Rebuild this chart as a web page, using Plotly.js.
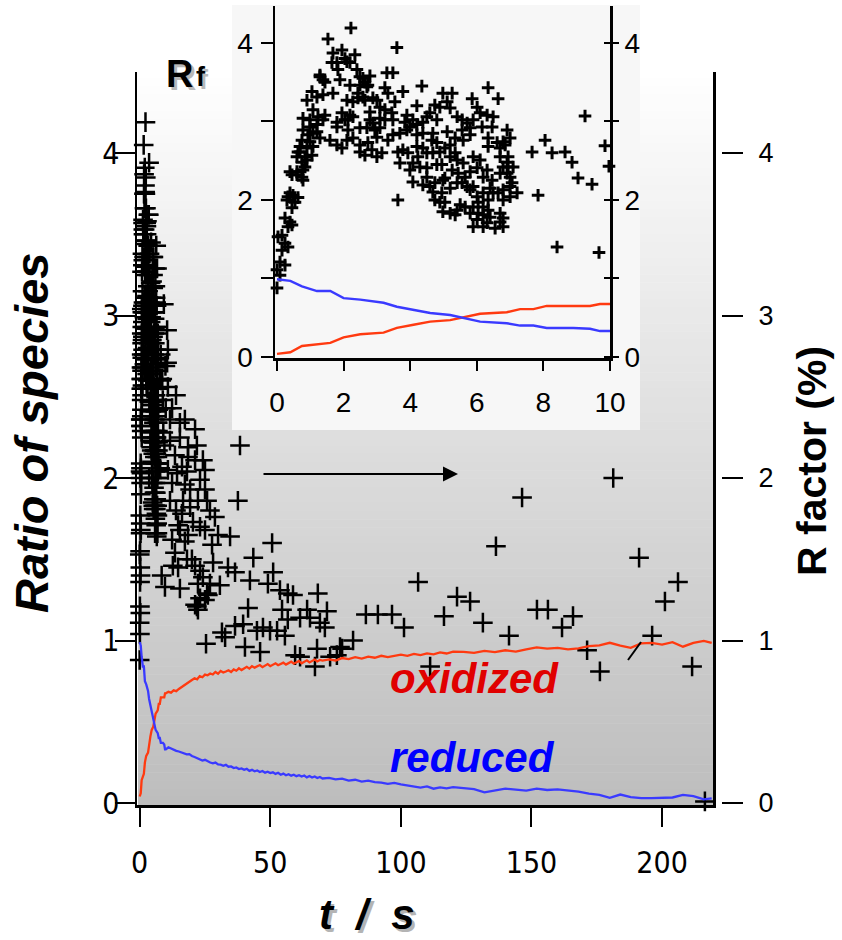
<!DOCTYPE html>
<html><head><meta charset="utf-8">
<script src="https://cdn.plot.ly/plotly-3.0.1.min.js"></script>
<style>html,body{margin:0;padding:0;background:#fff}</style>
</head><body><div id="chart" style="width:842px;height:940px"></div>
<script>
// R factor (%) scatter points: time (s) and value
const rfTime = [2.22,1.53,3.60,1.68,1.95,2.04,2.34,1.65,2.19,1.83,2.40,2.79,2.58,3.30,3.48,1.29,1.44,1.89,2.19,2.49,2.70,
4.35,3.78,3.24,3.33,3.54,1.05,1.20,0.90,1.38,1.68,2.10,2.43,2.64,2.88,2.28,
4.98,5.26,5.86,6.34,6.64,4.20,4.74,4.89,5.11,5.20,6.01,6.10,6.31,6.49,
1.08,1.23,0.99,0.78,1.44,1.95,2.13,2.28,2.79,3.09,2.88,2.70,3.09,3.24,3.48,3.90,4.08,3.84,3.99,4.20,4.38,4.50,4.59,4.80,5.41,5.56,5.71,5.56,5.80,5.89,6.16,6.46,6.91,
1.80,2.13,2.49,0.78,0.99,1.20,0.93,1.59,1.80,1.95,2.10,2.28,2.49,2.73,3.00,3.33,3.48,3.69,3.90,4.20,4.38,4.68,5.11,5.35,4.65,4.80,5.20,5.59,5.80,6.34,6.61,6.79,7.00,
0.90,0.69,1.08,1.05,0.84,0.60,0.75,0.84,2.49,2.64,2.85,3.00,3.15,3.63,3.78,3.93,3.69,4.20,4.38,4.23,4.08,4.29,4.50,4.80,4.95,5.20,5.35,5.89,6.10,6.34,6.70,6.85,6.70,6.94,6.91,5.80,6.01,6.31,6.70,6.91,
4.08,4.38,4.59,4.74,5.04,5.41,5.56,5.71,5.89,5.20,4.68,4.95,4.74,4.89,5.04,5.80,6.01,6.19,6.40,6.49,6.64,6.79,7.00,7.21,
3.63,5.50,5.65,6.04,6.19,6.34,4.98,5.20,5.35,5.80,6.04,6.19,6.70,6.79,6.70,5.89,6.19,6.55,
0.45,0.60,0.75,0.78,0.33,0.48,0.63,0.54,0.45,0.24,0.39,0.45,0.33,0.15,0.03,0.24,0.33,0.15,0.09,0.24,0.00,0.09,0.00,
9.25,8.05,7.66,8.26,8.65,8.86,9.85,9.97,7.84,9.04,9.46,8.41,9.67,7.06,6.94,
1.29,1.38,1.80,2.10,2.49,2.64,2.73,2.43,2.58,3.00,3.09,3.24,3.45,2.79,2.94,2.19,2.04,1.80,1.38,1.20,1.08,1.29,0.99,0.75,0.69,0.63,0.90,0.78,0.60,0.39,0.30,0.39,
4.68,4.89,5.04,4.50,5.41,5.59,5.26,5.44,5.65,6.19,6.46,7.00,7.09,6.79,4.98,4.50,3.99,6.34,6.79,7.00,5.89,5.41,6.40,6.01,6.31,6.79,
10.5,10.8,12.4,15.4,17.3,15.4,18.5,21.9,24.2,21.2,18.5,16.2,14.3,18.1,23.1,25.0,17.3,12.4,22.3,25.8,28.8,19.3,16.2,20.4,23.1,25.0,30.0,34.6,15.4,17.3,38.4,37.6,50.7,
13.5,18.1,21.2,23.1,24.2,22.3,23.1,21.2,22.3,25.0,26.1,26.9,43.5,51.1,33.8,36.5,28.1,15.4,14.7,12.7,20.0,21.9,25.8,30.7,42.2,49.1,53.7,56.7,58.7,68.2,41.5,54.5,56.7,61.4,64.1,65.2,69.0,71.7,70.9,36.5,39.6,31.5,32.7,44.9,47.2,49.9,52.6,55.6,25.4,40.3,46.1,59.5,61.4,67.9,67.1,72.9,75.5,77.5,
181.3,146.4,136.4,191.2,206.1,201.1,106.6,121.5,126.5,86.6,91.2,96.6,101.2,116.5,131.4,152.1,156.3,161.7,165.9,141.4,196.2,81.7,76.7,111.2,171.3,176.2,211.5,216.4,
11.6,13.5,10.8,11.6,13.9,12.4,14.7,19.3,16.6,13.9,11.6,21.2,25.0,26.9,18.5,27.7,10.8,10.5];
const rfValue = [4.19,4.05,3.94,3.87,3.91,3.80,3.85,3.75,3.75,3.66,3.66,3.58,3.55,3.62,3.62,3.57,3.50,3.53,3.46,3.46,3.44,
3.45,3.38,3.43,3.36,3.25,3.38,3.31,3.27,3.34,3.36,3.27,3.36,3.27,3.30,3.25,
3.36,3.36,3.29,3.43,3.29,3.20,3.21,3.18,3.25,3.17,3.18,3.11,3.08,3.06,
3.15,3.06,3.02,3.04,3.08,3.11,3.02,3.06,3.12,3.04,2.98,2.92,2.92,3.02,3.02,3.08,3.02,2.99,2.93,2.96,2.99,3.06,3.11,3.02,3.06,3.02,2.98,2.89,2.92,3.02,2.93,2.93,2.89,
2.93,2.89,2.92,2.89,2.93,2.87,2.83,2.76,2.70,2.66,2.76,2.79,2.70,2.73,2.80,2.76,2.83,2.85,2.89,2.83,2.85,2.85,2.87,2.79,2.76,2.73,2.70,2.76,2.83,2.79,2.73,2.74,2.79,
2.66,2.61,2.68,2.57,2.55,2.55,2.48,2.42,2.61,2.57,2.64,2.55,2.60,2.61,2.64,2.60,2.47,2.68,2.66,2.55,2.47,2.42,2.41,2.45,2.45,2.55,2.60,2.55,2.51,2.68,2.66,2.70,2.55,2.55,2.48,2.36,2.41,2.38,2.34,2.34,
2.23,2.19,2.17,2.22,2.28,2.22,2.22,2.17,2.17,2.15,2.10,2.09,2.00,1.97,1.97,2.13,2.04,2.09,2.15,2.09,2.09,2.13,2.17,2.09,
2.00,1.94,1.91,1.97,1.91,1.87,1.85,1.83,1.81,1.83,1.83,1.81,1.83,1.77,1.72,1.66,1.66,1.64,
2.32,2.32,2.29,2.25,2.04,2.06,2.03,1.97,1.90,1.77,1.72,1.68,1.66,1.55,1.53,1.45,1.40,1.36,1.21,1.17,1.11,1.04,0.88,
3.07,2.76,2.61,2.60,2.61,2.48,2.69,2.43,2.06,2.28,2.20,1.40,1.33,2.22,2.42,
3.59,3.53,3.75,3.76,3.57,3.50,3.46,3.30,3.31,3.27,3.18,3.15,3.11,3.02,2.89,3.08,3.02,2.99,3.02,2.96,2.85,2.79,2.74,2.76,2.68,2.61,2.51,2.38,2.36,2.36,2.00,2.09,
2.60,2.61,2.66,2.60,2.51,2.47,2.38,2.34,2.29,2.29,2.25,2.29,2.42,2.42,2.25,2.29,2.38,2.00,2.00,2.04,1.91,1.87,1.78,1.75,1.71,1.66,
2.71,2.56,2.43,2.34,2.36,2.25,2.19,2.20,2.11,2.11,2.13,2.07,2.03,2.04,1.99,2.05,1.96,1.97,1.86,1.86,1.76,1.82,1.78,1.73,1.70,1.68,1.65,1.64,1.68,1.61,2.20,1.86,1.60,
1.54,1.50,1.46,1.43,1.39,1.35,1.26,1.22,1.19,1.25,1.28,1.35,1.51,1.42,1.45,1.42,1.48,1.32,1.45,1.46,1.50,1.21,1.29,1.34,1.37,1.35,1.31,1.29,1.28,1.29,1.20,1.19,1.13,1.14,1.19,1.14,1.11,1.18,1.08,1.09,1.10,1.05,1.02,1.06,1.08,1.06,1.06,1.03,0.98,0.96,0.93,0.91,0.90,0.95,0.84,0.90,0.91,0.95,
2.00,1.88,1.58,1.51,1.36,1.24,1.36,1.27,1.24,1.16,1.16,1.16,1.08,1.15,1.11,1.19,1.19,1.08,1.15,1.03,1.03,1.00,0.96,0.84,0.94,0.81,0.84,0.01,
2.23,2.14,2.05,1.86,1.80,1.62,1.71,1.93,1.86,2.51,2.36,2.30,1.93,1.80,1.65,1.59,2.79,2.91];

// ratio of species lines
const lineTime = [0,0.4,0.75,1.2,1.6,2.0,2.5,3.2,3.6,4.1,4.6,5.2,6.1,6.9,7.3,7.7,8.1,8.9,9.4,9.7,10.0,
11,12,13,14,15,16,17,18,19,20,21,22,23,24,25,26,27,28,29,30,31,32,33,34,35,36,37,38,39,40,
41,42,43,44,45,46,47,48,49,50,51,52,53,54,55,56,57,58,59,60,61,62,63,64,65,66,67,68,69,70,
72.5,75,77.5,80,82.5,85,87.5,90,92.5,95,97.5,100,102.5,105,107.5,110,112.5,115,117.5,120,
124,128,132,136,140,144,148,152,156,160,164,168,172,176,180,184,188,192,196,200,204,208,212,216,219];
const oxidized = [0.04,0.06,0.14,0.16,0.18,0.25,0.29,0.31,0.37,0.41,0.45,0.47,0.55,0.57,0.61,0.61,0.65,0.65,0.65,0.675,0.675,
0.684,0.679,0.693,0.688,0.702,0.714,0.722,0.738,0.745,0.757,
0.768,0.761,0.781,0.774,0.790,0.786,0.797,0.791,0.806,0.795,
0.812,0.803,0.809,0.817,0.806,0.822,0.814,0.829,0.818,0.826,
0.838,0.827,0.842,0.833,0.839,0.849,0.836,0.845,0.855,0.842,
0.851,0.860,0.848,0.856,0.864,0.852,0.861,0.870,0.857,0.866,
0.874,0.860,0.869,0.878,0.865,0.873,0.883,0.871,0.880,0.876,
0.884,0.877,0.892,0.885,0.897,0.889,0.901,0.894,0.906,0.898,0.904,0.913,0.906,0.918,0.910,0.921,0.915,0.927,0.920,0.931,
0.930,0.924,0.936,0.929,0.940,0.932,0.945,0.958,0.950,0.955,0.946,0.951,0.966,0.970,0.986,0.968,0.955,0.982,0.985,0.975,0.990,0.962,0.985,0.998,0.985];
const reduced = [0.99,0.97,0.90,0.84,0.84,0.75,0.73,0.69,0.64,0.60,0.56,0.535,0.45,0.43,0.40,0.40,0.37,0.37,0.36,0.33,0.33,
0.343,0.334,0.329,0.321,0.317,0.311,0.304,0.299,0.301,0.289,
0.283,0.276,0.271,0.261,0.266,0.255,0.249,0.244,0.249,0.237,
0.236,0.229,0.235,0.223,0.225,0.215,0.219,0.209,0.213,0.204,
0.210,0.198,0.204,0.195,0.200,0.191,0.197,0.187,0.193,0.184,
0.189,0.179,0.186,0.174,0.181,0.171,0.177,0.168,0.174,0.165,
0.171,0.163,0.169,0.158,0.166,0.157,0.163,0.154,0.160,0.151,
0.155,0.145,0.150,0.138,0.143,0.132,0.138,0.128,0.126,0.118,0.124,0.115,0.108,0.102,0.095,0.102,0.088,0.096,0.090,0.098,
0.090,0.085,0.065,0.078,0.088,0.082,0.076,0.088,0.080,0.084,0.078,0.070,0.058,0.050,0.032,0.052,0.036,0.030,0.030,0.030,0.034,0.050,0.042,0.022,0.028];

const mainTicksX = [0,50,100,150,200];
const mainTicksY = [0,1,2,3,4];
const insetTicksX = [0,2,4,6,8,10];
const insetTicksY = [0,1,2,3,4];
const insetTickText = ['0','','2','','4'];

const W = 842, H = 940;
const px = v => v / W, py = v => 1 - v / H;
const NARROW = "'Liberation Sans Narrow','Arial Narrow','DejaVu Sans Condensed',sans-serif";
const ARIAL = "'Liberation Sans',Arial,Helvetica,sans-serif";
const RED = '#ff3a10', BLUE = '#3a3aff';

const inT = [], inV = [];
rfTime.forEach((t, i) => { if (t <= 10.05) { inT.push(t); inV.push(rfValue[i]); } });
const inLT = [], inOx = [], inRe = [];
lineTime.forEach((t, i) => { if (t <= 10.0001) { inLT.push(t); inOx.push(oxidized[i]); inRe.push(reduced[i]); } });

const traces = [
  {x: rfTime, y: rfValue, xaxis: 'x', yaxis: 'y', mode: 'markers', cliponaxis: false,
   marker: {symbol: 'cross-thin', size: 14, color: '#000', line: {width: 2.5, color: '#000'}}, hoverinfo: 'skip'},
  {x: lineTime, y: oxidized, xaxis: 'x', yaxis: 'y', mode: 'lines', line: {color: RED, width: 2.3}, hoverinfo: 'skip'},
  {x: lineTime, y: reduced, xaxis: 'x', yaxis: 'y', mode: 'lines', line: {color: BLUE, width: 2.3}, hoverinfo: 'skip'},
  {x: inT, y: inV, xaxis: 'x2', yaxis: 'y2', mode: 'markers', cliponaxis: false,
   marker: {symbol: 'cross-thin', size: 9, color: '#000', line: {width: 3, color: '#000'}}, hoverinfo: 'skip'},
  {x: inLT, y: inOx, xaxis: 'x2', yaxis: 'y2', mode: 'lines', line: {color: RED, width: 2.4}, hoverinfo: 'skip'},
  {x: inLT, y: inRe, xaxis: 'x2', yaxis: 'y2', mode: 'lines', line: {color: BLUE, width: 2.4}, hoverinfo: 'skip'},
  {x: [null], y: [null], xaxis: 'x2', yaxis: 'y3', mode: 'markers', hoverinfo: 'skip'},
  {x: [null], y: [null], xaxis: 'x2', yaxis: 'y4', mode: 'markers', hoverinfo: 'skip'},
  {x: [null], y: [null], xaxis: 'x', yaxis: 'y5', mode: 'markers', hoverinfo: 'skip'}
];

// gradient background of main plot
const shapes = [];
const gTop = 70, gBot = 805, nStrip = 90;
for (let i = 0; i < nStrip; i++) {
  const y0 = gTop + (gBot - gTop) * i / nStrip, y1 = gTop + (gBot - gTop) * (i + 1) / nStrip;
  const f = (i + 0.5) / nStrip;
  const c = Math.round(255 - f * 66);
  shapes.push({type: 'rect', xref: 'paper', yref: 'paper', layer: 'below',
    x0: px(138), x1: px(713), y0: py(y1) - 0.0005, y1: py(y0),
    fillcolor: `rgb(${c},${c},${c})`, line: {width: 0}});
}
shapes.push({type: 'rect', xref: 'paper', yref: 'paper', layer: 'below',
  x0: px(232), x1: px(640), y0: py(430), y1: py(5), fillcolor: '#f7f7f7', line: {width: 0}});
shapes.push({type: 'line', xref: 'paper', yref: 'paper', x0: px(628), y0: py(660), x1: px(641), y1: py(642),
  line: {color: '#000', width: 2}});

const common = {showgrid: false, zeroline: false, linecolor: '#000', tickcolor: '#000', fixedrange: true};

function label(x, y, text, font, extra) {
  return Object.assign({xref: 'paper', yref: 'paper', x: px(x), y: py(y), text: text, showarrow: false,
    xanchor: 'center', yanchor: 'middle', font: font}, extra || {});
}

const layout = {
  width: W, height: H, margin: {l: 0, r: 0, t: 0, b: 0},
  paper_bgcolor: '#fff', plot_bgcolor: 'rgba(0,0,0,0)', showlegend: false,
  xaxis: Object.assign({}, common, {domain: [px(137), px(713)], range: [-1.03, 219.5], anchor: 'y',
    showline: true, linewidth: 2.5, ticks: 'outside', ticklen: 19, tickwidth: 2,
    tickvals: mainTicksX, ticktext: mainTicksX.map(String), ticklabelstandoff: 10,
    tickfont: {family: NARROW, size: 30, color: '#000'}}),
  yaxis: Object.assign({}, common, {domain: [py(805), py(72)], range: [-0.0123, 4.4985], anchor: 'x',
    showline: true, mirror: true, linewidth: 2.5, ticks: 'outside', ticklen: 20, tickwidth: 2,
    tickvals: mainTicksY, ticktext: mainTicksY.map(String), ticklabelstandoff: -11,
    tickfont: {family: NARROW, size: 30, color: '#000'}}),
  yaxis5: Object.assign({}, common, {overlaying: 'y', anchor: 'free', position: px(721), side: 'right',
    range: [-0.0123, 4.4985], showline: false, ticks: 'outside', ticklen: 21, tickwidth: 2,
    tickvals: mainTicksY, ticktext: mainTicksY.map(String), ticklabelstandoff: 10,
    tickfont: {family: ARIAL, size: 27, color: '#000'}}),
  xaxis2: Object.assign({}, common, {domain: [px(275), px(610)], range: [-0.06, 10], anchor: 'y2',
    showline: true, linewidth: 2.5, ticks: 'outside', ticklen: 10, tickwidth: 2,
    tickvals: insetTicksX, ticktext: insetTicksX.map(String), ticklabelstandoff: 8,
    tickfont: {family: ARIAL, size: 28, color: '#000'}}),
  yaxis2: Object.assign({}, common, {domain: [py(358), py(6)], range: [-0.013, 4.47], anchor: 'x2',
    showline: true, mirror: true, linewidth: 2.5, ticks: 'outside', ticklen: 12, tickwidth: 2,
    tickvals: insetTicksY, ticktext: insetTickText, ticklabelstandoff: 2,
    tickfont: {family: ARIAL, size: 28, color: '#000'}}),
  yaxis3: Object.assign({}, common, {overlaying: 'y2', anchor: 'x2', side: 'right', range: [-0.013, 4.47],
    showline: false, ticks: 'outside', ticklen: 8, tickwidth: 2,
    tickvals: insetTicksY, ticktext: insetTickText,
    tickfont: {family: ARIAL, size: 28, color: '#000'}}),
  yaxis4: Object.assign({}, common, {overlaying: 'y2', anchor: 'x2', side: 'right', range: [-0.013, 4.47],
    showline: false, ticks: 'inside', ticklen: 6, tickwidth: 2, showticklabels: false,
    tickvals: insetTicksY}),
  shapes: shapes,
  annotations: [
    {xref: 'paper', yref: 'paper', x: px(458), y: py(474), ax: -196, ay: 0, text: '', showarrow: true,
     arrowhead: 2, arrowsize: 1.5, arrowwidth: 2, arrowcolor: '#000'},
    label(474, 678, 'oxidized', {family: ARIAL, size: 42, color: '#e00000', weight: 'bold', style: 'italic'}),
    label(472, 757, 'reduced', {family: ARIAL, size: 42, color: '#0000ff', weight: 'bold', style: 'italic'}),
    label(31, 433, 'Ratio of species', {family: ARIAL, size: 47, color: '#000', weight: 'bold', style: 'italic'}, {textangle: -90}),
    label(812, 461, 'R factor (%)', {family: ARIAL, size: 41, color: '#000', weight: 'bold'}, {textangle: -90}),
    label(370, 917, 't\u00a0\u00a0/\u00a0\u00a0s', {family: ARIAL, size: 42, color: '#b4b4b4', weight: 'bold', style: 'italic'}),
    label(367, 914, 't\u00a0\u00a0/\u00a0\u00a0s', {family: ARIAL, size: 42, color: '#000', weight: 'bold', style: 'italic'}),
    label(182, 77, 'R', {family: ARIAL, size: 38, color: '#b8b8b8', weight: 'bold'}),
    label(204, 80, 'f', {family: ARIAL, size: 27, color: '#b8b8b8', weight: 'bold'}),
    label(179, 74, 'R', {family: ARIAL, size: 38, color: '#000', weight: 'bold'}),
    label(201, 77, 'f', {family: ARIAL, size: 27, color: '#000', weight: 'bold'})
  ]
};

Plotly.newPlot('chart', traces, layout, {staticPlot: true, displayModeBar: false});
</script></body></html>
